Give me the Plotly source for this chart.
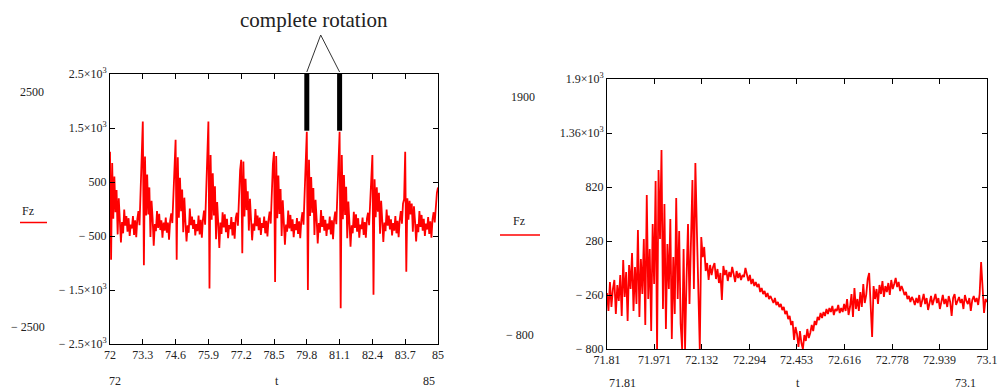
import numpy as np
import plotly.graph_objects as go

# ---------------- data: left chart (t = 72 .. 85, one list per rotation) ----------------
t_left_start, t_left_end = 72.0, 85.0
cyc0 = [1060, -940, 850, -180, 600, -60, 350, -470, 200, -220, -620, -240, -450, -10, -310, -130, -420, -170, -500, -290, -360, -130, -480, -210, -520, -180, -40, -300, 280, 760]
cyc1 = [1620, -1040, 970, -120, 640, -100, 400, -520, 150, -180, -680, -280, -410, -40, -350, -90, -390, -210, -530, -250, -400, -160, -440, -250, -570, -220, -80, -260, 320, 820]
cyc2 = [1280, -940, 960, -160, 580, -40, 360, -430, 210, -240, -600, -300, -440, 10, -300, -140, -370, -200, -490, -280, -410, -120, -470, -200, -530, -190, -30, -290, 350, 850]
cyc3 = [1620, -1470, 1000, -200, 660, -120, 420, -560, 130, -260, -720, -250, -460, -60, -340, -100, -430, -180, -540, -300, -370, -150, -490, -240, -550, -170, -70, -310, 260, 720]
cyc4 = [910, -820, 880, -140, 560, -20, 330, -400, 190, -210, -580, -270, -400, 0, -320, -120, -390, -160, -480, -260, -350, -140, -450, -220, -510, -200, -50, -270, 340, 830]
cyc5 = [1060, -1350, 980, -170, 620, -90, 370, -500, 160, -230, -660, -290, -420, -30, -360, -110, -410, -190, -520, -280, -390, -170, -460, -230, -540, -210, -60, -290, 310, 800]
cyc6 = [1430, -1500, 910, -130, 590, -70, 390, -480, 170, -190, -640, -260, -440, -20, -330, -130, -400, -200, -500, -270, -380, -140, -470, -210, -560, -190, -50, -280, 330, 840]
cyc7 = [1430, -1840, 1000, -190, 630, -110, 410, -540, 140, -250, -700, -300, -450, -50, -350, -100, -420, -170, -530, -290, -370, -160, -480, -240, -530, -180, -70, -300, 250, 450]
cyc8 = [1000, -1590, 550, -150, 400, -50, 300, -460, 150, -210, -610, -250, -410, -10, -310, -120, -380, -190, -490, -260, -400, -130, -450, -220, -520, -200, -40, -270, 100, 180]
cyc9 = [1060, -1160, 200, -200, 150, -100, 100, -420, 50, -230, -600, -280, -430, -40, -330, -110, -400, -180, -500, -270, -380, -150, -460, -230, -530, -190, -60, -250, 150, 300]
last_left = [400]
fz_left = cyc0 + cyc1 + cyc2 + cyc3 + cyc4 + cyc5 + cyc6 + cyc7 + cyc8 + cyc9 + last_left

# ---------------- data: right chart (t = 71.81 .. 73.1) ----------------
t_right_start, t_right_end = 71.81, 73.1
seg_osc = [-240, -420, -130, -380, -200, -110, -450, -160, -320, -60,
           -470, 90, -280, -30, -520, 40, -200, 160, -420, 20,
           -350, 390, -480, 100, -250, 300, -560, 740, -300, 200,
           -620, 450, -150, 880, -800, 990, 300, 1190, -400, 650,
           -600, 250, -200, 500, -700, 120, -450, 710, -300, 380,
           -550, -800, 200, -800, -100, 450, -350, 300, 890, -200,
           1060, 400, -300, -800]
seg_decay = [320, 120, 220, -20, 60, -110,
             40, -60, 20, 60, -100, 0, -140, -40, -310, 30,
             -60, -10, -120, -30, -80, 20, -50, -130, -20, -90,
             -40, -110, -60, -80, 10, -70, -120, -60, -150, -100]
seg_ramp = [-170, -130, -180, -150, -230, -190, -250, -220, -280, -240,
            -300, -270, -310, -340, -290, -360, -330, -380, -350, -410,
            -380, -450, -420, -500, -470, -560, -520, -710, -580, -650,
            -780, -620, -740, -800, -660, -720, -600, -690, -640, -560]
seg_recover = [-620, -520, -560, -480, -510, -440, -490, -430, -470, -400,
               -450, -390, -430, -370, -460, -400, -420, -360, -440, -390,
               -430, -350, -420, -300, -460, -380, -250, -480, -190, -400,
               -300, -420, -230, -380, -150, -340, -260, -100, -40, -450,
               -680, -170, -300, -200, -350, -160, -250, -120, -280, -170,
               -230, -140, -260, -110, -200, -150, -90, -180, -130, -220]
seg_tail = [-170, -210, -260, -230, -300, -270, -330, -280, -310, -360,
            -290, -340, -260, -380, -300, -250, -350, -290, -410, -320,
            -270, -360, -300, -250, -340, -290, -400, -310, -260, -350,
            -300, -380, -270, -330, -470, -290, -250, -360, -310, -280,
            -340, -300, -400, -260, -320, -350, -290, -420, -310, -270,
            -330, -290, -360, -250, 70, -200, -440, -300, -330]
fz_right = seg_osc + seg_decay + seg_ramp + seg_recover + seg_tail

# ---------------- ticks ----------------
left_xticks = [72, 73.3, 74.6, 75.9, 77.2, 78.5, 79.8, 81.1, 82.4, 83.7, 85]
left_xlabels = ["72", "73.3", "74.6", "75.9", "77.2", "78.5", "79.8", "81.1", "82.4", "83.7", "85"]
left_yticks = [2500, 1500, 500, -500, -1500, -2500]
left_ylabels = ["2.5×10<sup>3</sup>", "1.5×10<sup>3</sup>", "500", "− 500", "− 1.5×10<sup>3</sup>", "− 2.5×10<sup>3</sup>"]
right_xticks = [71.81, 71.971, 72.132, 72.294, 72.453, 72.616, 72.778, 72.939, 73.1]
right_xlabels = ["71.81", "71.971", "72.132", "72.294", "72.453", "72.616", "72.778", "72.939", "73.1"]
right_yticks = [1900, 1360, 820, 280, -260, -800]
right_ylabels = ["1.9×10<sup>3</sup>", "1.36×10<sup>3</sup>", "820", "280", "− 260", "− 800"]
rotation_marks = [79.8, 81.1]

W, H = 1001, 392
def px(x):
    return x / W
def py(y):
    return 1 - y / H

t_left = np.linspace(t_left_start, t_left_end, len(fz_left))
t_right = np.linspace(t_right_start, t_right_end, len(fz_right))

RED = "#ff0000"
TXT = "#222222"
FONT = "Liberation Serif"

fig = go.Figure()
fig.add_trace(go.Scatter(x=t_left, y=fz_left, mode="lines", line=dict(color=RED, width=1.8),
                         xaxis="x", yaxis="y", showlegend=False, hoverinfo="skip"))
fig.add_trace(go.Scatter(x=t_right, y=fz_right, mode="lines", line=dict(color=RED, width=1.8),
                         xaxis="x2", yaxis="y2", showlegend=False, hoverinfo="skip"))

axis_common = dict(showline=True, linecolor="black", linewidth=1, mirror="ticks",
                   ticks="inside", ticklen=5, tickcolor="black", showgrid=False,
                   zeroline=False, tickmode="array", automargin=False,
                   tickfont=dict(family=FONT, size=12, color=TXT))

fig.update_layout(
    width=W, height=H, autosize=False,
    margin=dict(l=0, r=0, t=0, b=0, pad=0),
    paper_bgcolor="white", plot_bgcolor="white",
    xaxis=dict(domain=[px(110), px(438)], range=[72, 85], anchor="y",
               tickvals=left_xticks, ticktext=left_xlabels, **axis_common),
    yaxis=dict(domain=[py(344), py(74)], range=[-2500, 2500], anchor="x",
               tickvals=left_yticks, ticktext=left_ylabels, **axis_common),
    xaxis2=dict(domain=[px(607), px(987)], range=[71.81, 73.1], anchor="y2",
                tickvals=right_xticks, ticktext=right_xlabels, **axis_common),
    yaxis2=dict(domain=[py(349), py(79)], range=[-800, 1900], anchor="x2",
                tickvals=right_yticks, ticktext=right_ylabels, **axis_common),
)

shapes = []
# thick black rotation markers
for xm in rotation_marks:
    shapes.append(dict(type="line", xref="x", yref="y", x0=xm, x1=xm, y0=2500, y1=1450,
                       line=dict(color="black", width=5)))
# annotation legs
apex = (320.7, 35)
for xm in rotation_marks:
    shapes.append(dict(type="line", xref="x", yref="paper", x0=xm, x1=72 + (apex[0] - 110) / 328 * 13,
                       y0=py(72), y1=py(apex[1]), line=dict(color="#333333", width=1)))
# legend red strokes
shapes.append(dict(type="line", xref="paper", yref="paper", x0=px(20), x1=px(47), y0=py(222.5), y1=py(222.5),
                   line=dict(color=RED, width=1.5)))
shapes.append(dict(type="line", xref="paper", yref="paper", x0=px(500), x1=px(540), y0=py(235), y1=py(235),
                   line=dict(color=RED, width=1.5)))
fig.update_layout(shapes=shapes)

def note(text, x, y, size=12, xanchor="center"):
    return dict(text=text, xref="paper", yref="paper", x=px(x), y=py(y), xanchor=xanchor,
                yanchor="middle", showarrow=False, font=dict(family=FONT, size=size, color=TXT))

annotations = [
    note("complete rotation", 314, 20, size=21),
    note("2500", 32, 92),
    note("− 2500", 28, 327),
    note("Fz", 28, 211),
    note("72", 115, 381),
    note("t", 277, 381),
    note("85", 429, 381),
    note("1900", 523, 97),
    note("− 800", 520, 335),
    note("Fz", 519, 221),
    note("71.81", 622, 383),
    note("t", 798, 383),
    note("73.1", 965, 383),
]
fig.update_layout(annotations=annotations)

fig.write_html("out.html", config={"displayModeBar": False},
               post_script="document.body.style.margin='0px';document.body.style.overflow='hidden';")
